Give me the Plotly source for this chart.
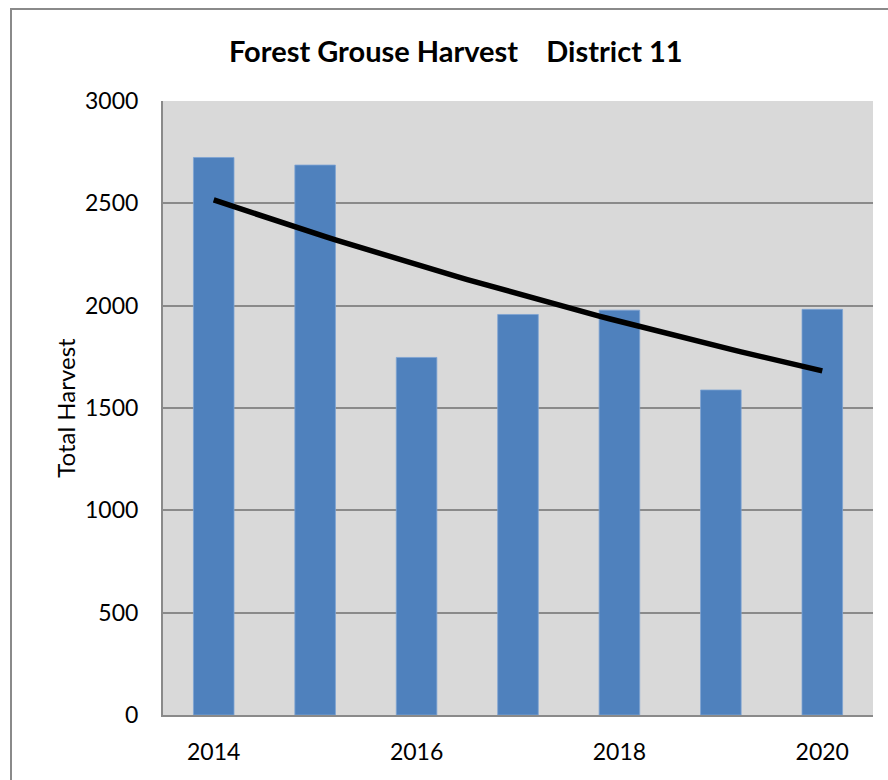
import numpy as np
import plotly.graph_objects as go

# Forest grouse harvest, District 11
years = [2014, 2015, 2016, 2017, 2018, 2019, 2020]
harvest = [2724, 2687, 1747, 1957, 1978, 1588, 1982]
tick_years = [2014, 2016, 2018, 2020]
y_ticks = [0, 500, 1000, 1500, 2000, 2500, 3000]

# Exponential trend line fitted to the harvest totals
x = np.array(years, dtype=float)
b, a = np.polyfit(x - x[0], np.log(harvest), 1)
trend_x = np.linspace(x[0], x[-1], 61)
trend_y = np.exp(a + b * (trend_x - x[0]))

W, H = 888, 780
L, R, T, B = 163, 15, 101, 65
pw, ph = W - L - R, H - T - B

fig = go.Figure()
fig.add_trace(go.Bar(
    x=years, y=harvest, width=0.4,
    marker=dict(color="#4f81bd", line=dict(color="#7ea3d3", width=0.8)),
    showlegend=False,
))
fig.add_trace(go.Scatter(
    x=trend_x, y=trend_y, mode="lines",
    line=dict(color="black", width=5.5),
    showlegend=False,
))

# outer chart frame
fig.add_shape(
    type="rect", xref="paper", yref="paper",
    x0=(11 - L) / pw, x1=(W + 5 - L) / pw,
    y0=-(B + 10) / ph, y1=1 + (T - 9) / ph,
    line=dict(color="#8a8a8a", width=2), fillcolor="rgba(0,0,0,0)", layer="below",
)

fig.add_annotation(
    text="Forest Grouse Harvest\u00a0\u00a0\u00a0\u00a0District 11",
    xref="paper", yref="paper",
    x=(456 - L) / pw, y=1 + (T - 51) / ph,
    xanchor="center", yanchor="middle", showarrow=False,
    font=dict(family="Lato", size=29, color="black", weight="bold"),
)

fig.update_layout(
    width=W, height=H,
    margin=dict(l=L, r=R, t=T, b=B, pad=0),
    paper_bgcolor="white",
    plot_bgcolor="#d9d9d9",
    font=dict(family="Lato", color="black"),
    xaxis=dict(
        range=[2013.5, 2020.5], tickvals=tick_years, ticktext=[str(v) for v in tick_years],
        showgrid=False, zeroline=False,
        showline=True, linecolor="#8a8a8a", linewidth=2,
        ticks="outside", ticklen=15, tickcolor="rgba(0,0,0,0)",
        tickfont=dict(size=23),
    ),
    yaxis=dict(
        range=[0, 3000], tickvals=y_ticks,
        showgrid=True, gridcolor="#8a8a8a", gridwidth=1.5,
        zeroline=False,
        showline=True, linecolor="#8a8a8a", linewidth=2,
        ticks="outside", ticklen=18, tickcolor="rgba(0,0,0,0)",
        tickfont=dict(size=23),
        title=dict(text="Total Harvest", font=dict(size=24), standoff=3),
    ),
)

fig.write_html("out.html")
